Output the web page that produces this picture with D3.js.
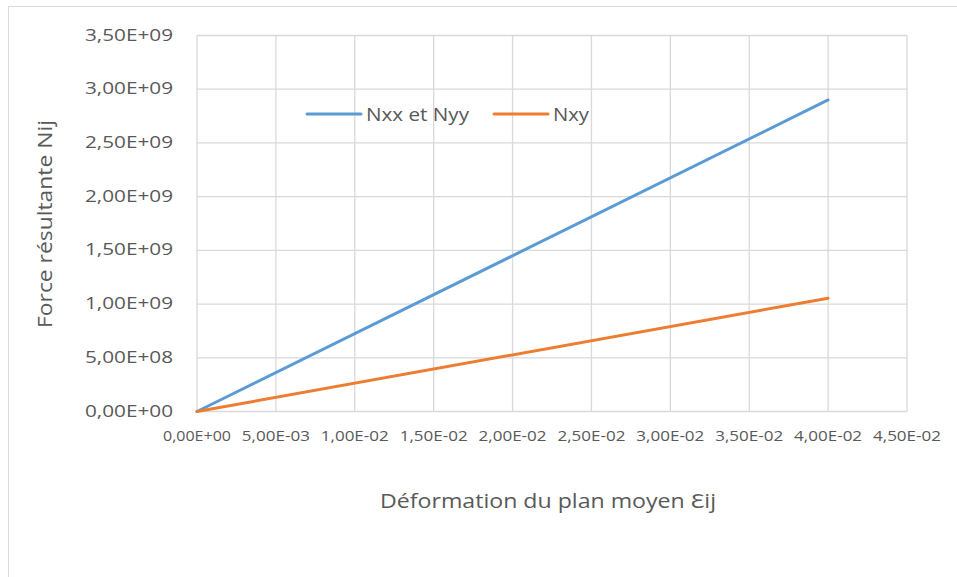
<!DOCTYPE html>
<html>
<head>
<meta charset="utf-8">
<script src="https://cdn.jsdelivr.net/npm/d3@7"></script>
<style>
  body { margin: 0; background: #fff; }
  svg { display: block; font-family: "Open Sans", "Noto Sans", sans-serif; }
</style>
</head>
<body>
<svg id="chart" width="957" height="577"></svg>
<script>
// data
const seriesNames = ["Nxx et Nyy", "Nxy"];
const strainValues = [0, 0.04];
const nxxValues = [0, 2.9e9];
const nxyValues = [0, 1.055e9];
const xTicks = [0, 0.005, 0.01, 0.015, 0.02, 0.025, 0.03, 0.035, 0.04, 0.045];
const yTicks = [0, 0.5e9, 1e9, 1.5e9, 2e9, 2.5e9, 3e9, 3.5e9];
const colors = ["#5b9bd5", "#ed7d31"];

const svg = d3.select("#chart");
const margin = { left: 197, right: 50, top: 35.5, bottom: 165.5 };

// outer chart frame
svg.append("rect")
  .attr("x", 8.5).attr("y", 6.5)
  .attr("width", 1000).attr("height", 1000)
  .attr("fill", "none").attr("stroke", "#d9d9d9");

const x = d3.scaleLinear().domain([0, 0.045]).range([margin.left, 907]);
const y = d3.scaleLinear().domain([0, 3.5e9]).range([411.5, margin.top]);

// excel style "3,50E+09"
const fmt = d => {
  const [m, e] = d.toExponential(2).replace(".", ",").split("e");
  const sign = e[0] === "-" ? "-" : "+";
  return m + "E" + sign + Math.abs(+e).toString().padStart(2, "0");
};

// gridlines
const grid = svg.append("g").attr("stroke", "#d9d9d9").attr("stroke-width", 1.3);
grid.selectAll(".h").data(yTicks).join("line")
  .attr("x1", x(0)).attr("x2", x(0.045))
  .attr("y1", d => y(d)).attr("y2", d => y(d));
grid.selectAll(".v").data(xTicks).join("line")
  .attr("x1", d => x(d)).attr("x2", d => x(d))
  .attr("y1", y(0)).attr("y2", y(3.5e9));

// y axis labels
svg.append("g").selectAll("text").data(yTicks).join("text")
  .attr("x", 173).attr("y", d => y(d) + 5)
  .attr("text-anchor", "end")
  .attr("fill", "#595959").attr("font-size", 17)
  .attr("textLength", 88).attr("lengthAdjust", "spacingAndGlyphs")
  .text(fmt);

// x axis labels
svg.append("g").selectAll("text").data(xTicks).join("text")
  .attr("x", d => x(d)).attr("y", 441)
  .attr("text-anchor", "middle")
  .attr("fill", "#595959").attr("font-size", 14.5)
  .attr("textLength", 68).attr("lengthAdjust", "spacingAndGlyphs")
  .text(fmt);

// lines
const line = d3.line().x(d => x(d[0])).y(d => y(d[1]));
const series = [nxxValues, nxyValues].map(vals => strainValues.map((s, i) => [s, vals[i]]));
svg.append("g").selectAll("path").data(series).join("path")
  .attr("fill", "none")
  .attr("stroke", (d, i) => colors[i])
  .attr("stroke-width", 3)
  .attr("stroke-linecap", "round")
  .attr("d", line);

// legend
const legendX = [307, 494];
const legendLen = [103, 36];
const legend = svg.append("g").selectAll("g").data(seriesNames).join("g")
  .attr("transform", (d, i) => `translate(${legendX[i]},114)`);
legend.append("line")
  .attr("x1", 0).attr("x2", 54)
  .attr("stroke", (d, i) => colors[i]).attr("stroke-width", 3)
  .attr("stroke-linecap", "round");
legend.append("text")
  .attr("x", 59).attr("y", 6.5)
  .attr("fill", "#595959").attr("font-size", 18)
  .attr("textLength", (d, i) => legendLen[i]).attr("lengthAdjust", "spacingAndGlyphs")
  .text(d => d);

// axis titles
svg.append("text")
  .attr("x", 548).attr("y", 508)
  .attr("text-anchor", "middle")
  .attr("fill", "#595959").attr("font-size", 20)
  .attr("textLength", 336).attr("lengthAdjust", "spacingAndGlyphs")
  .text("Déformation du plan moyen Ɛij");

svg.append("text")
  .attr("transform", "translate(52,224) rotate(-90)")
  .attr("text-anchor", "middle")
  .attr("fill", "#595959").attr("font-size", 20)
  .attr("textLength", 208).attr("lengthAdjust", "spacingAndGlyphs")
  .text("Force résultante Nij");
</script>
</body>
</html>
